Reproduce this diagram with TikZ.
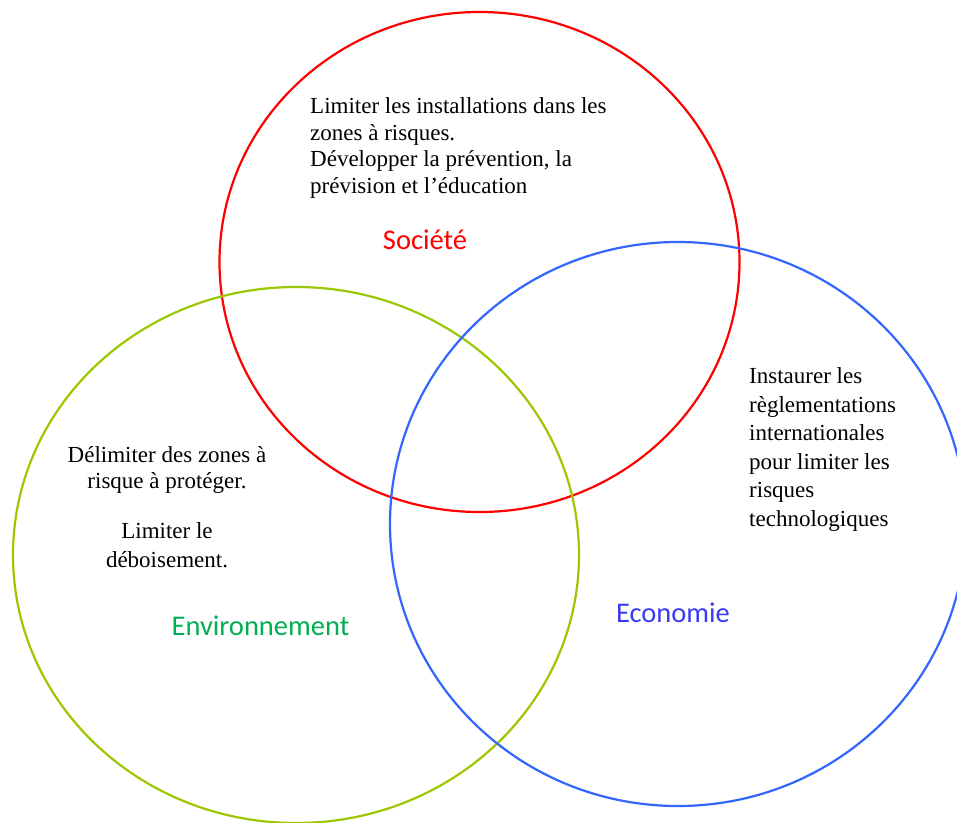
\documentclass[tikz,border=0pt]{standalone}
\usepackage{fontspec}
\setmainfont{Liberation Serif}
\newfontfamily\labelfont{Carlito}
\definecolor{socred}{HTML}{FF0000}
\definecolor{envring}{HTML}{9BC800}
\definecolor{envtext}{HTML}{00B050}
\definecolor{ecoring}{HTML}{3366FF}
\definecolor{ecotext}{HTML}{3A3AF5}
\tikzset{
  ring/.style={line width=2.2pt},
  bodytext/.style={inner sep=0pt, text=black},
  ringlabel/.style={inner sep=0pt, font=\labelfont\fontsize{28.5}{32}\selectfont},
}
\begin{document}
\begin{tikzpicture}[x=1pt,y=-1pt]
\useasboundingbox (0,0) rectangle (957,822);
\fill[white] (0,0) rectangle (957,822);
% circles
\draw[ring, socred] (479.5,262) ellipse [x radius=260, y radius=250];
\draw[ring, envring] (296,555) ellipse [x radius=283, y radius=268];
\draw[ring, ecoring] (678,524) ellipse [x radius=288, y radius=282];
% Société
\node[bodytext, font=\fontsize{23}{26.7}\selectfont, anchor=north west, align=left] (soctext) at (310,97.3)
  {Limiter les installations dans les\\zones à risques.\\Développer la prévention, la\\prévision et l’éducation};
\node[ringlabel, text=socred, anchor=base] (soclabel) at (425,249) {Société};
% Environnement
\node[bodytext, font=\fontsize{23}{26.5}\selectfont, anchor=north, align=center] (envtext1) at (167,446.2)
  {Délimiter des zones à\\risque à protéger.};
\node[bodytext, font=\fontsize{23}{29}\selectfont, anchor=north, align=center] (envtext2) at (167,522.3)
  {Limiter le\\déboisement.};
\node[ringlabel, text=envtext, anchor=base] (envlabel) at (260.5,635) {Environnement};
% Economie
\node[bodytext, font=\fontsize{23}{28.6}\selectfont, anchor=north west, align=left] (ecotext) at (749,367.3)
  {Instaurer les\\règlementations\\internationales\\pour limiter les\\risques\\technologiques};
\node[ringlabel, text=ecotext, anchor=base] (ecolabel) at (673,622) {Economie};
\end{tikzpicture}
\end{document}
